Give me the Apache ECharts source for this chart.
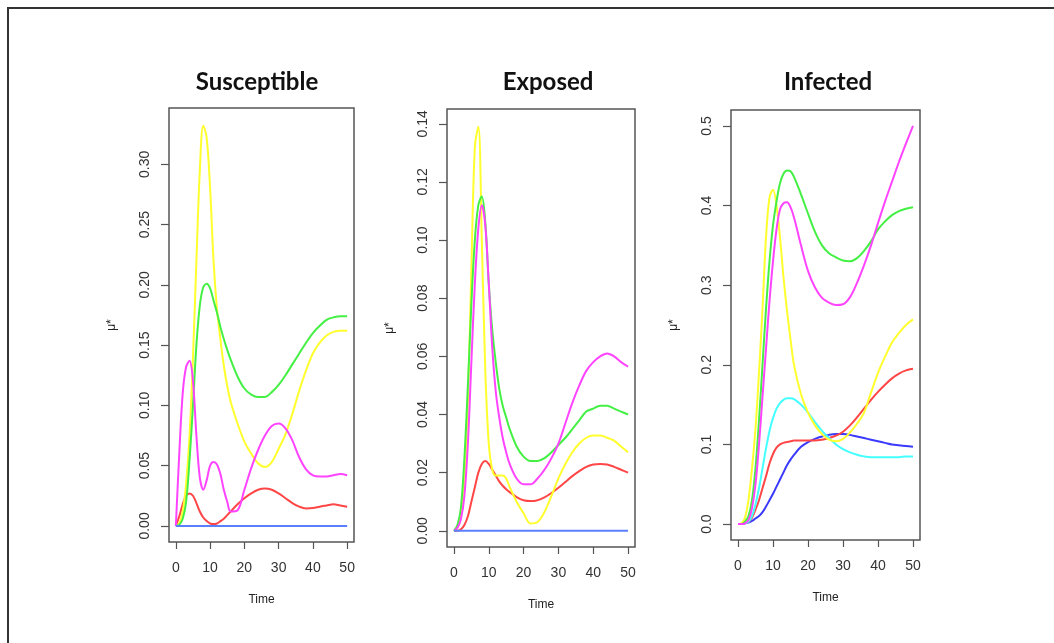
<!DOCTYPE html>
<html>
<head>
<meta charset="utf-8">
<title>Susceptible / Exposed / Infected</title>
<script src="https://cdn.jsdelivr.net/npm/echarts@6/dist/echarts.min.js"></script>
<style>
  html, body { margin: 0; padding: 0; background: #fff; }
  #chart { width: 1054px; height: 643px; }
</style>
</head>
<body>
<div id="chart"></div>
<script>
// time points (denser early on, where the curves move fast)
var time = [0,1,2,3,4,5,6,7,8,9,10,11,12,13,14,15,16,18,20,22,24,26,28,30,32,34,36,38,40,42,44,46,48,50];
var xTicks = [0,10,20,30,40,50];

// Susceptible
var susYellow  = [0,0.002,0.012,0.035,0.075,0.14,0.22,0.295,0.332,0.322,0.28,0.22,0.18,0.155,0.133,0.116,0.103,0.085,0.07,0.06,0.052,0.049,0.053,0.064,0.076,0.093,0.112,0.129,0.143,0.152,0.158,0.161,0.162,0.162];
var susGreen   = [0,0.001,0.006,0.02,0.055,0.1,0.15,0.183,0.198,0.201,0.197,0.187,0.177,0.165,0.155,0.146,0.138,0.124,0.114,0.109,0.107,0.107,0.111,0.117,0.125,0.134,0.143,0.152,0.16,0.166,0.171,0.173,0.174,0.174];
var susMagenta = [0,0.06,0.11,0.132,0.137,0.12,0.075,0.04,0.03,0.038,0.05,0.053,0.051,0.043,0.03,0.02,0.012,0.013,0.03,0.048,0.063,0.075,0.083,0.085,0.081,0.071,0.057,0.047,0.042,0.041,0.041,0.042,0.043,0.042];
var susRed     = [0,0.008,0.018,0.025,0.027,0.025,0.019,0.012,0.007,0.004,0.002,0.0015,0.002,0.004,0.006,0.009,0.012,0.018,0.023,0.027,0.03,0.031,0.03,0.027,0.023,0.019,0.016,0.0145,0.0148,0.016,0.017,0.018,0.017,0.016];
var susBlue    = [0,0,0,0,0,0,0,0,0,0,0,0,0,0,0,0,0,0,0,0,0,0,0,0,0,0,0,0,0,0,0,0,0,0];

// Exposed
var expYellow  = [0,0.001,0.005,0.017,0.045,0.09,0.132,0.139,0.1,0.055,0.03,0.021,0.019,0.019,0.019,0.018,0.015,0.01,0.006,0.0025,0.003,0.0065,0.012,0.018,0.023,0.027,0.03,0.032,0.0328,0.0328,0.032,0.031,0.029,0.027];
var expGreen   = [0,0.002,0.008,0.025,0.05,0.078,0.1,0.112,0.115,0.106,0.085,0.069,0.058,0.049,0.043,0.039,0.035,0.029,0.0255,0.024,0.024,0.025,0.027,0.0295,0.032,0.035,0.038,0.041,0.042,0.043,0.043,0.042,0.041,0.04];
var expMagenta = [0,0.001,0.004,0.012,0.03,0.058,0.085,0.104,0.112,0.105,0.085,0.063,0.048,0.039,0.032,0.027,0.023,0.018,0.016,0.016,0.018,0.021,0.025,0.03,0.037,0.044,0.05,0.055,0.058,0.06,0.061,0.06,0.058,0.0565];
var expRed     = [0,0,0.0005,0.002,0.005,0.01,0.015,0.02,0.023,0.024,0.023,0.021,0.019,0.017,0.0155,0.0143,0.0133,0.0116,0.0105,0.0102,0.0105,0.0115,0.013,0.0148,0.0168,0.0188,0.0205,0.022,0.0228,0.023,0.0228,0.022,0.021,0.02];
var expBlue    = [0,0,0,0,0,0,0,0,0,0,0,0,0,0,0,0,0,0,0,0,0,0,0,0,0,0,0,0,0,0,0,0,0,0];

// Infected
var infYellow  = [0,0.001,0.008,0.03,0.07,0.12,0.19,0.27,0.36,0.41,0.42,0.4,0.36,0.31,0.268,0.232,0.2,0.163,0.14,0.124,0.113,0.106,0.104,0.107,0.115,0.126,0.14,0.165,0.19,0.21,0.228,0.24,0.25,0.257];
var infGreen   = [0,0,0.003,0.01,0.03,0.07,0.13,0.2,0.27,0.33,0.375,0.405,0.428,0.44,0.444,0.443,0.436,0.414,0.39,0.367,0.35,0.34,0.335,0.331,0.33,0.334,0.343,0.355,0.37,0.38,0.388,0.393,0.396,0.398];
var infMagenta = [0,0,0.001,0.005,0.02,0.05,0.1,0.16,0.22,0.28,0.33,0.37,0.395,0.403,0.404,0.398,0.385,0.35,0.318,0.297,0.284,0.278,0.275,0.276,0.285,0.303,0.325,0.35,0.378,0.405,0.43,0.455,0.478,0.5];
var infCyan    = [0,0,0.001,0.003,0.01,0.025,0.045,0.07,0.095,0.117,0.133,0.145,0.152,0.156,0.158,0.158,0.157,0.15,0.14,0.128,0.117,0.108,0.1,0.094,0.09,0.087,0.085,0.084,0.084,0.084,0.084,0.084,0.085,0.085];
var infRed     = [0,0,0.001,0.003,0.008,0.018,0.03,0.045,0.06,0.076,0.088,0.096,0.1,0.102,0.103,0.104,0.105,0.105,0.105,0.105,0.106,0.108,0.111,0.116,0.124,0.134,0.145,0.156,0.166,0.175,0.183,0.189,0.193,0.195];
var infBlue    = [0,0,0.001,0.002,0.004,0.007,0.01,0.015,0.022,0.03,0.038,0.047,0.056,0.065,0.074,0.081,0.087,0.097,0.103,0.107,0.11,0.112,0.113,0.113,0.112,0.11,0.108,0.106,0.104,0.102,0.1,0.099,0.098,0.097];

var susTicks = [0,0.05,0.1,0.15,0.2,0.25,0.3];
var expTicks = [0,0.02,0.04,0.06,0.08,0.1,0.12,0.14];
var infTicks = [0,0.1,0.2,0.3,0.4,0.5];

var panels = [
  { title: 'Susceptible', titleX: 252, left: 169, top: 108, width: 185, height: 434,
    yMin: -0.01333, yMax: 0.3467, ticks: susTicks, digits: 2,
    lines: [[susRed, '#ff4646'], [susYellow, '#ffff2e'], [susGreen, '#44f044'], [susMagenta, '#ff44ff'], [susBlue, '#5b80ff']] },
  { title: 'Exposed', titleX: 543, left: 447, top: 109, width: 188, height: 438,
    yMin: -0.00558, yMax: 0.14508, ticks: expTicks, digits: 2,
    lines: [[expRed, '#ff4646'], [expYellow, '#ffff2e'], [expGreen, '#44f044'], [expMagenta, '#ff44ff'], [expBlue, '#5b80ff']] },
  { title: 'Infected', titleX: 823, left: 731, top: 110, width: 189, height: 430,
    yMin: -0.02, yMax: 0.52, ticks: infTicks, digits: 1,
    lines: [[infBlue, '#3a3aff'], [infRed, '#ff4646'], [infCyan, '#44ffff'], [infYellow, '#ffff2e'], [infGreen, '#44f044'], [infMagenta, '#ff44ff']] }
];

var labelStyle = { color: '#333', fontFamily: 'Liberation Sans, Arial, sans-serif', fontSize: 14 };

var grid = [], xAxis = [], yAxis = [], series = [], title = [];

panels.forEach(function (p, i) {
  title.push({
    text: p.title, left: p.titleX, top: 65, textAlign: 'center',
    textStyle: { fontFamily: 'Lato, sans-serif', fontWeight: 'bold', fontSize: 24, color: '#111' }
  });
  grid.push({
    left: p.left, top: p.top, width: p.width, height: p.height,
    show: true, borderColor: '#555', borderWidth: 1.5, backgroundColor: '#fff'
  });
  xAxis.push({
    type: 'value', gridIndex: i, min: -2, max: 52,
    name: 'Time', nameLocation: 'middle', nameGap: 52,
    nameTextStyle: { color: '#222', fontFamily: 'Liberation Sans, Arial, sans-serif', fontSize: 12 },
    axisLine: { show: false, onZero: false },
    axisTick: { show: true, length: 7, customValues: xTicks, lineStyle: { color: '#555', width: 1.2 } },
    axisLabel: Object.assign({ customValues: xTicks, margin: 19 }, labelStyle),
    splitLine: { show: false }
  });
  yAxis.push({
    type: 'value', gridIndex: i, min: p.yMin, max: p.yMax,
    name: 'μ*', nameLocation: 'middle', nameGap: 51, nameRotate: 90,
    nameTextStyle: { color: '#222', fontFamily: 'Liberation Sans, Arial, sans-serif', fontSize: 12 },
    axisLine: { show: false, onZero: false },
    axisTick: { show: true, length: 8, customValues: p.ticks, lineStyle: { color: '#555', width: 1.2 } },
    axisLabel: Object.assign({
      customValues: p.ticks, rotate: 90, margin: 17,
      formatter: (function (d) { return function (v) { return v.toFixed(d); }; })(p.digits)
    }, labelStyle),
    splitLine: { show: false }
  });
  p.lines.forEach(function (l) {
    series.push({
      type: 'line', xAxisIndex: i, yAxisIndex: i,
      data: time.map(function (t, k) { return [t, l[0][k]]; }),
      smooth: 0.35, showSymbol: false, silent: true,
      lineStyle: { color: l[1], width: 2 }
    });
  });
});

var chart = echarts.init(document.getElementById('chart'));
chart.setOption({
  backgroundColor: '#fff',
  animation: false,
  title: title,
  grid: grid,
  xAxis: xAxis,
  yAxis: yAxis,
  series: series,
  graphic: [{
    type: 'rect', silent: true, z: 100,
    shape: { x: 8, y: 8, width: 1100, height: 700 },
    style: { fill: 'none', stroke: '#333', lineWidth: 2 }
  }]
});
</script>
</body>
</html>
